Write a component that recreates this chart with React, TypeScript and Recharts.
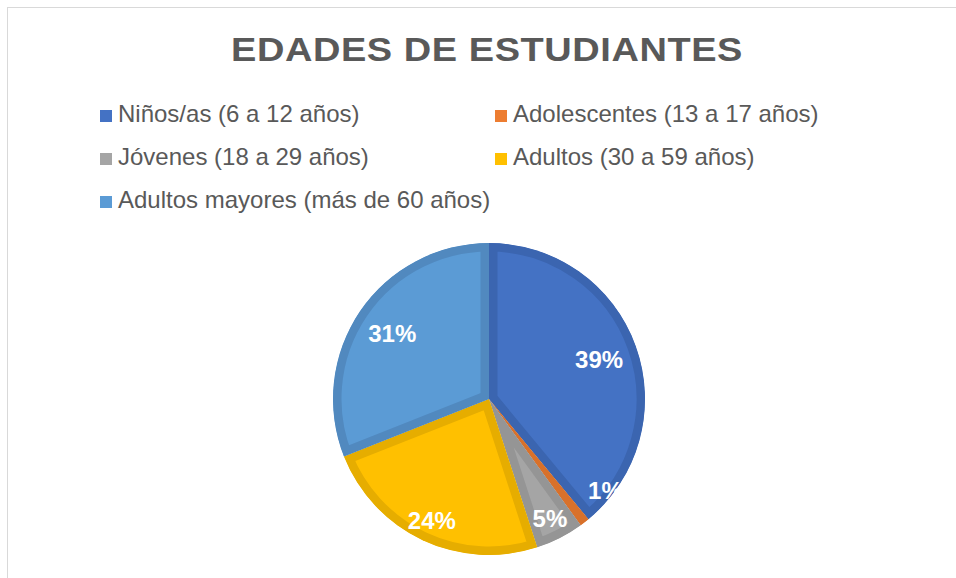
import { PieChart, Pie, Cell, Sector } from 'recharts';

const CATEGORIES = [
  'Niños/as (6 a 12 años)',
  'Adolescentes (13 a 17 años)',
  'Jóvenes (18 a 29 años)',
  'Adultos (30 a 59 años)',
  'Adultos mayores (más de 60 años)',
];
const VALUES = [39, 1, 5, 24, 31];
const COLORS = ['#4472C4', '#ED7D31', '#A5A5A5', '#FFC000', '#5B9BD5'];
const BORDERS = ['#3B65B0', '#D8712B', '#959595', '#E6AD00', '#5189BF'];

const data = CATEGORIES.map((name, i) => ({ name, value: VALUES[i] }));

const FONT = '"Liberation Sans", Arial, sans-serif';
const RAD = Math.PI / 180;

// slice with an inner border: stroke twice as wide, clipped to the slice itself
const renderSlice = (props: any) => {
  const { cx, cy, innerRadius, outerRadius, startAngle, endAngle } = props;
  const name = props.name ?? props.payload?.name;
  const i = CATEGORIES.indexOf(name);
  const id = `slice-clip-${i}`;
  const geom = { cx, cy, innerRadius, outerRadius, startAngle, endAngle };
  return (
    <g>
      <defs>
        <clipPath id={id}>
          <Sector {...geom} />
        </clipPath>
      </defs>
      <g clipPath={`url(#${id})`}>
        <Sector {...geom} fill={COLORS[i]} stroke={BORDERS[i]} strokeWidth={17} />
      </g>
    </g>
  );
};

const renderLabel = (props: any) => {
  const { cx, cy, midAngle, outerRadius, percent } = props;
  let factor = percent < 0.3 ? 0.86 : 0.75;
  let angle = midAngle;
  if (percent < 0.02) {
    factor = 0.95;
    angle = midAngle + 14;
  }
  const r = outerRadius * factor;
  const x = cx + r * Math.cos(-angle * RAD);
  const y = cy + r * Math.sin(-angle * RAD);
  return (
    <text x={x} y={y} fill="#ffffff" fontSize={24} fontWeight="bold" fontFamily={FONT}
      textAnchor="middle" dominantBaseline="central">
      {`${Math.round(percent * 100)}%`}
    </text>
  );
};

const LEGEND_POS = [
  { left: 92, top: 94 },
  { left: 487, top: 94 },
  { left: 92, top: 137 },
  { left: 487, top: 137 },
  { left: 92, top: 180 },
];

export default function App() {
  return (
    <div style={{ position: 'absolute', left: 7, top: 7, width: 949, height: 571, borderTop: '1px solid #d9d9d9', borderLeft: '1px solid #d9d9d9', boxSizing: 'border-box', overflow: 'hidden', background: '#fff', fontFamily: FONT }}>
      <div style={{ position: 'absolute', left: 0, top: 25, width: 958, textAlign: 'center', fontSize: 33, lineHeight: '33px', fontWeight: 'bold', color: '#595959', letterSpacing: 0.5, transform: 'scaleX(1.15)' }}>
        EDADES DE ESTUDIANTES
      </div>
      {CATEGORIES.map((name, i) => (
        <div key={name} style={{ position: 'absolute', left: LEGEND_POS[i].left, top: LEGEND_POS[i].top, display: 'flex', alignItems: 'center', height: 24, whiteSpace: 'nowrap' }}>
          <span style={{ display: 'inline-block', width: 12, height: 12, marginTop: 3, background: COLORS[i], marginRight: 6 }} />
          <span style={{ fontSize: 24, lineHeight: '24px', color: '#595959' }}>{name}</span>
        </div>
      ))}
      <PieChart width={948} height={570} style={{ position: 'absolute', left: 0, top: 0 }}>
        <Pie
          data={data}
          dataKey="value"
          nameKey="name"
          cx={476}
          cy={386}
          outerRadius={156}
          startAngle={90}
          endAngle={-270}
          stroke="none"
          shape={renderSlice}
          inactiveShape={renderSlice}
          activeShape={renderSlice}
          label={renderLabel}
          labelLine={false}
          isAnimationActive={false}
        >
          {data.map((d, i) => (
            <Cell key={d.name} fill={COLORS[i]} />
          ))}
        </Pie>
      </PieChart>
    </div>
  );
}
